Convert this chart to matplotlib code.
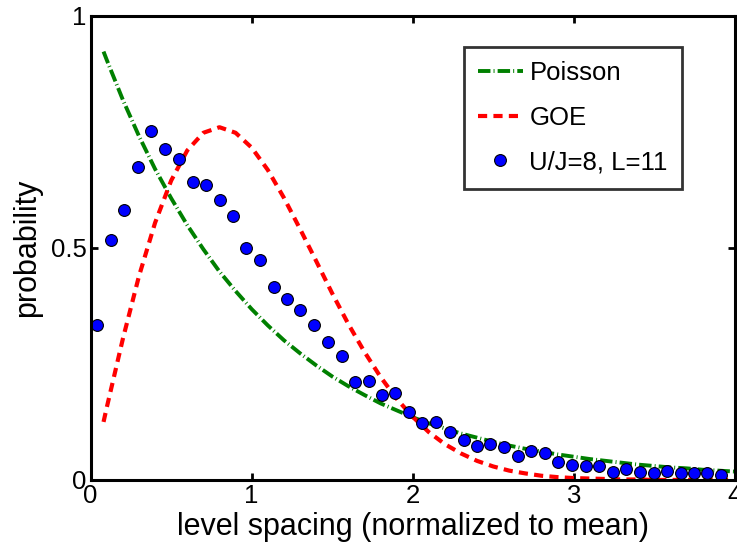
import matplotlib
matplotlib.use("Agg")
import matplotlib.pyplot as plt

plt.rcParams["font.family"] = ["Liberation Sans", "DejaVu Sans"]

# ==============================
# Data
# ==============================
# level spacing histogram, U/J=8, L=11
spacing = [0.041, 0.124, 0.209, 0.294, 0.374, 0.463, 0.546, 0.633, 0.714, 0.801,
           0.881, 0.966, 1.051, 1.136, 1.220, 1.303, 1.390, 1.473, 1.558, 1.642,
           1.726, 1.808, 1.889, 1.975, 2.057, 2.145, 2.231, 2.317, 2.400, 2.483,
           2.566, 2.651, 2.737, 2.820, 2.903, 2.990, 3.075, 3.158, 3.243, 3.327,
           3.411, 3.496, 3.580, 3.663, 3.746, 3.830, 3.913]
prob = [0.334, 0.518, 0.582, 0.675, 0.752, 0.714, 0.691, 0.642, 0.636, 0.603,
        0.569, 0.500, 0.474, 0.416, 0.389, 0.366, 0.334, 0.297, 0.266, 0.211,
        0.214, 0.183, 0.188, 0.147, 0.122, 0.124, 0.103, 0.086, 0.073, 0.078,
        0.072, 0.052, 0.063, 0.059, 0.039, 0.032, 0.029, 0.031, 0.018, 0.024,
        0.018, 0.014, 0.020, 0.016, 0.016, 0.014, 0.010]

# reference curves
s_curve = [0.08, 0.1, 0.2, 0.3, 0.4, 0.5, 0.6, 0.7, 0.8, 0.9, 1.0,
           1.1, 1.2, 1.3, 1.4, 1.5, 1.6, 1.7, 1.8, 1.9, 2.0,
           2.1, 2.2, 2.3, 2.4, 2.5, 2.6, 2.7, 2.8, 2.9, 3.0,
           3.1, 3.2, 3.3, 3.4, 3.5, 3.6, 3.7, 3.8, 3.9, 4.0]
poisson = [0.923, 0.905, 0.819, 0.741, 0.670, 0.607, 0.549, 0.497, 0.449, 0.407, 0.368,
           0.333, 0.301, 0.273, 0.247, 0.223, 0.202, 0.183, 0.165, 0.150, 0.135,
           0.122, 0.111, 0.100, 0.091, 0.082, 0.074, 0.067, 0.061, 0.055, 0.050,
           0.045, 0.041, 0.037, 0.033, 0.030, 0.027, 0.025, 0.022, 0.020, 0.018]
goe = [0.125, 0.156, 0.304, 0.439, 0.554, 0.645, 0.710, 0.748, 0.760, 0.748, 0.716,
       0.668, 0.608, 0.541, 0.472, 0.402, 0.336, 0.276, 0.222, 0.175, 0.136,
       0.103, 0.077, 0.057, 0.041, 0.029, 0.020, 0.014, 0.009, 0.006, 0.004,
       0.003, 0.002, 0.001, 0.001, 0.000, 0.000, 0.000, 0.000, 0.000, 0.000]

xticks = [0, 1, 2, 3, 4]
yticks = [0, 0.5, 1]
ytick_labels = ["0", "0.5", "1"]

# ==============================
# Figure
# ==============================
fig = plt.figure(figsize=(7.37, 5.46), dpi=100)
ax = fig.add_axes([0.123, 0.121, 0.874, 0.850])

ax.plot(s_curve, poisson, color="#008000", linewidth=2.8,
        dashes=(3.2, 0.8, 0.25, 0.8), label="Poisson")
ax.plot(s_curve, goe, color="red", linewidth=3, dashes=(2.2, 1.5), label="GOE")
ax.plot(spacing, prob, "o", color="blue", markeredgecolor="black",
        markeredgewidth=0.8, markersize=8.5, label="U/J=8, L=11")

ax.set_xlim(0, 4)
ax.set_ylim(0, 1)
ax.set_xticks(xticks)
ax.set_yticks(yticks)
ax.set_yticklabels(ytick_labels)
ax.tick_params(direction="in", length=5, width=2, labelsize=18.5,
               top=True, right=True, pad=3)
for sp in ax.spines.values():
    sp.set_linewidth(2.2)

ax.set_xlabel("level spacing (normalized to mean)", fontsize=22, labelpad=3)
ax.set_ylabel("probability", fontsize=22, labelpad=6)

leg = ax.legend(loc="upper left", bbox_to_anchor=(0.579, 0.933),
                borderaxespad=0, fontsize=18.5, handlelength=1.75,
                handletextpad=0.25, labelspacing=0.8, fancybox=False,
                borderpad=0.56, numpoints=1)
leg.get_frame().set_edgecolor("black")
leg.get_frame().set_linewidth(2)

fig.savefig("out.png", dpi=100)
